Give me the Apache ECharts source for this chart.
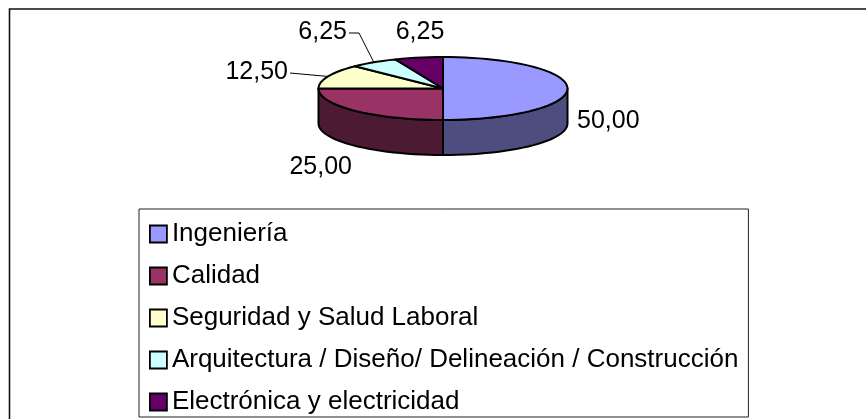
<!DOCTYPE html>
<html>
<head>
<meta charset="utf-8">
<style>html,body{margin:0;padding:0;background:#fff}#c{width:866px;height:419px}</style>
<script src="https://cdn.jsdelivr.net/npm/echarts@6/dist/echarts.min.js"></script>
</head>
<body>
<div id="c"></div>
<script>
const categories = ['Ingeniería', 'Calidad', 'Seguridad y Salud Laboral', 'Arquitectura / Diseño/ Delineación / Construcción', 'Electrónica y electricidad'];
const shares = [50, 25, 12.5, 6.25, 6.25];
const topColors = ['#9999FF', '#993366', '#FFFFCC', '#CCFFFF', '#660066'];
const sideColors = ['#4D4D80', '#4D1A33', '#808066', '#668080', '#330033'];

const pie = { cx: 443, cy: 88.5, rx: 124.5, ry: 31.5, depth: 35 };
const labelBoxes = [
  { x: 577, y: 121, align: 'left' },
  { x: 352, y: 167, align: 'right' },
  { x: 288, y: 72, align: 'right', elbow: [290, 73] },
  { x: 347, y: 32, align: 'right', elbow: [349, 33, 359, 33] },
  { x: 420, y: 32, align: 'center' }
];
const FONT = '"Liberation Sans", Arial, sans-serif';
const total = shares.reduce((a, b) => a + b, 0);

function ell(a, dy) {
  return [pie.cx + pie.rx * Math.sin(a), pie.cy - pie.ry * Math.cos(a) + (dy || 0)];
}
function arc(a0, a1, dy) {
  const n = Math.max(2, Math.ceil(Math.abs(a1 - a0) / 0.06));
  const pts = [];
  for (let i = 0; i <= n; i++) pts.push(ell(a0 + (a1 - a0) * i / n, dy));
  return pts;
}
function chunk(a) {
  const r = [];
  for (let i = 0; i < a.length; i += 2) r.push([a[i], a[i + 1]]);
  return r;
}

function renderSlice(params, api) {
  const i = params.seriesIndex;
  const before = shares.slice(0, i).reduce((a, b) => a + b, 0);
  const a0 = before / total * 2 * Math.PI;
  const a1 = a0 + api.value(0) / total * 2 * Math.PI;
  const children = [];
  const s0 = Math.max(a0, Math.PI / 2), s1 = Math.min(a1, 3 * Math.PI / 2);
  const stroke = { stroke: '#000', lineWidth: 2, lineJoin: 'round' };
  if (s1 > s0) {
    const wall = arc(s0, s1, 0).concat(arc(s1, s0, pie.depth));
    children.push({ type: 'polygon', shape: { points: wall }, style: Object.assign({ fill: sideColors[i] }, stroke) });
  }
  const top = [[pie.cx, pie.cy]].concat(arc(a0, a1, 0));
  children.push({ type: 'polygon', shape: { points: top }, style: Object.assign({ fill: topColors[i] }, stroke) });

  const lb = labelBoxes[i];
  if (lb.elbow) {
    const mid = ell((a0 + a1) / 2, 0);
    children.push({ type: 'polyline', shape: { points: chunk(lb.elbow).concat([mid]) }, style: { stroke: '#000', lineWidth: 1, fill: null } });
  }
  children.push({
    type: 'text',
    style: {
      x: lb.x, y: lb.y, text: api.value(0).toFixed(2).replace('.', ','),
      align: lb.align, verticalAlign: 'middle', fill: '#000',
      font: '25px ' + FONT
    }
  });
  return { type: 'group', children };
}

const chart = echarts.init(document.getElementById('c'), null, { renderer: 'canvas' });
chart.setOption({
  animation: false,
  backgroundColor: '#fff',
  legend: {
    orient: 'vertical',
    left: 139,
    top: 209,
    height: 400,
    padding: [12, 10, 2, 10],
    itemWidth: 17,
    itemHeight: 17,
    itemGap: 16,
    selectedMode: false,
    backgroundColor: '#fff',
    borderColor: '#222',
    borderWidth: 1,
    textStyle: { fontFamily: FONT, fontSize: 26, color: '#000', padding: [0, 0, 4, 0] },
    data: categories.map((n, i) => ({
      name: n, icon: 'rect',
      itemStyle: { color: topColors[i], borderColor: '#000', borderWidth: 1.8 }
    }))
  },
  graphic: [{
    type: 'polyline', silent: true,
    shape: { points: [[9.5, 419], [9.5, 9], [866, 9]] },
    style: { stroke: '#111', lineWidth: 1.6, fill: null }
  }],
  series: categories.map((n, i) => ({
    type: 'custom',
    name: n,
    coordinateSystem: 'none',
    renderItem: renderSlice,
    silent: true,
    itemStyle: { color: topColors[i] },
    data: [[shares[i]]]
  }))
});
</script>
</body>
</html>
